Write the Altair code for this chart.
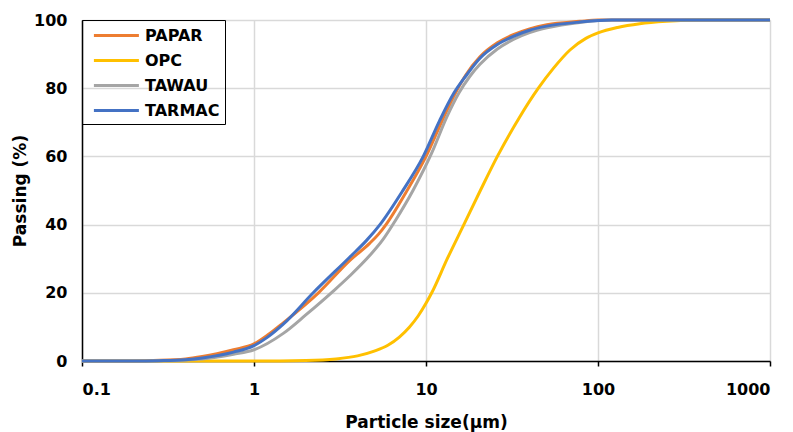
import altair as alt
import pandas as pd

# Particle size (µm) and cumulative passing (%) for each material
papar_size = [0.1, 0.2, 0.26, 0.4, 0.5, 0.76, 1.0, 1.2, 1.48, 2.37, 3.61, 4.7, 5.3, 5.91, 7.6, 10, 12.3, 14.8, 17, 20.6, 26, 32.2, 40, 50.4, 78.5, 100, 1000]
papar_pass = [0, 0, 0.15, 0.6, 1.3, 3.3, 5.0, 7.6, 11.2, 20, 29.5, 34.5, 37.2, 40.3, 49.2, 60, 70, 78.5, 83.8, 89.2, 93.3, 95.7, 97.4, 98.6, 99.6, 100, 100]

opc_size = [0.1, 1.0, 2.0, 3.0, 4.0, 5.0, 6.0, 7.0, 8.0, 9.0, 10, 10.8, 13.3, 16.6, 20.7, 26, 35, 45, 55, 68.7, 85, 100, 130, 175, 250, 400, 1000]
opc_pass = [0, 0, 0.15, 0.6, 1.5, 2.9, 4.6, 7.0, 9.9, 13.2, 16.9, 20, 30, 40, 50, 60, 71.5, 80, 85.8, 91.2, 94.6, 96.2, 97.8, 98.9, 99.6, 100, 100]

tawau_size = [0.1, 0.2, 0.3, 0.5, 0.76, 1.0, 1.48, 2.0, 2.89, 3.61, 4.72, 5.6, 6.6, 8.4, 10.8, 13.2, 15.5, 18, 20.6, 26, 32.2, 40, 50.4, 78.5, 120, 1000]
tawau_pass = [0, 0, 0.1, 0.6, 2.0, 3.3, 8.1, 13.5, 20.5, 25, 31, 35.5, 41, 50, 61, 71.5, 78.5, 83.5, 87, 91.5, 94.3, 96.3, 97.7, 99.3, 100, 100]

tarmac_size = [0.1, 0.2, 0.28, 0.4, 0.5, 0.76, 1.0, 1.2, 1.48, 2.21, 3.61, 4.5, 5.4, 7.23, 9.64, 12, 14.5, 17, 20.6, 26, 32.2, 40, 50.4, 78.5, 120, 1000]
tarmac_pass = [0, 0, 0.1, 0.4, 0.9, 2.6, 4.5, 7.0, 10.8, 20, 30.5, 35.3, 40, 49.5, 60, 70.5, 78.5, 83.5, 88.8, 92.8, 95.2, 97, 98.2, 99.4, 100, 100]

series_names = ["PAPAR", "OPC", "TAWAU", "TARMAC"]
series_colors = ["#ED7D31", "#FFC000", "#A5A5A5", "#4472C4"]
x_ticks = [0.1, 1, 10, 100, 1000]
y_ticks = [0, 20, 40, 60, 80, 100]

rows = []
for name, sizes, vals in [("PAPAR", papar_size, papar_pass), ("OPC", opc_size, opc_pass),
                          ("TAWAU", tawau_size, tawau_pass), ("TARMAC", tarmac_size, tarmac_pass)]:
    for i, (s, v) in enumerate(zip(sizes, vals)):
        rows.append({"series": name, "size": s, "passing": v, "idx": i})
df = pd.DataFrame(rows)

FONT = "DejaVu Sans"
common = dict(labelFont=FONT, labelFontSize=16, labelFontWeight="bold", labelColor="black",
              titleFont=FONT, titleFontSize=17, titleFontWeight="bold", titleColor="black",
              domainColor="black", domainWidth=1.5, gridColor="#D9D9D9", gridWidth=1.5)

chart = alt.Chart(df).mark_line(strokeWidth=3, interpolate="monotone").encode(
    x=alt.X("size:Q",
            scale=alt.Scale(type="log", domain=[0.1, 1000], nice=False),
            axis=alt.Axis(values=x_ticks, format="~g", title="Particle size(µm)",
                          titleY=61, titleBaseline="middle",
                          tickSize=5, tickWidth=1.5, tickColor="black",
                          labelPadding=15, **common)),
    y=alt.Y("passing:Q",
            scale=alt.Scale(domain=[0, 100], nice=False),
            axis=alt.Axis(values=y_ticks, title="Passing (%)", ticks=False,
                          titleX=-62, titleBaseline="middle", titleAngle=-90,
                          labelPadding=15, **common)),
    color=alt.Color("series:N",
                    scale=alt.Scale(domain=series_names, range=series_colors),
                    legend=alt.Legend(title=None, orient="none", legendX=0, legendY=0,
                                      symbolType="M-0.4,0H4.6", symbolSize=324,
                                      symbolStrokeWidth=3, labelOffset=37,
                                      labelFont=FONT, labelFontSize=16, labelFontWeight="bold",
                                      labelColor="black", rowPadding=6, padding=5,
                                      strokeColor="black", fillColor="transparent")),
    detail="series:N",
    order="idx:Q",
).properties(
    width=688, height=341,
    padding={"left": 82, "top": 20, "right": 23, "bottom": 71},
    autosize=alt.AutoSizeParams(type="none"),
).configure_view(
    stroke="black", strokeWidth=1.5
).configure(background="white")

chart.save("out.html", embed_options={"renderer": "svg", "actions": False})
